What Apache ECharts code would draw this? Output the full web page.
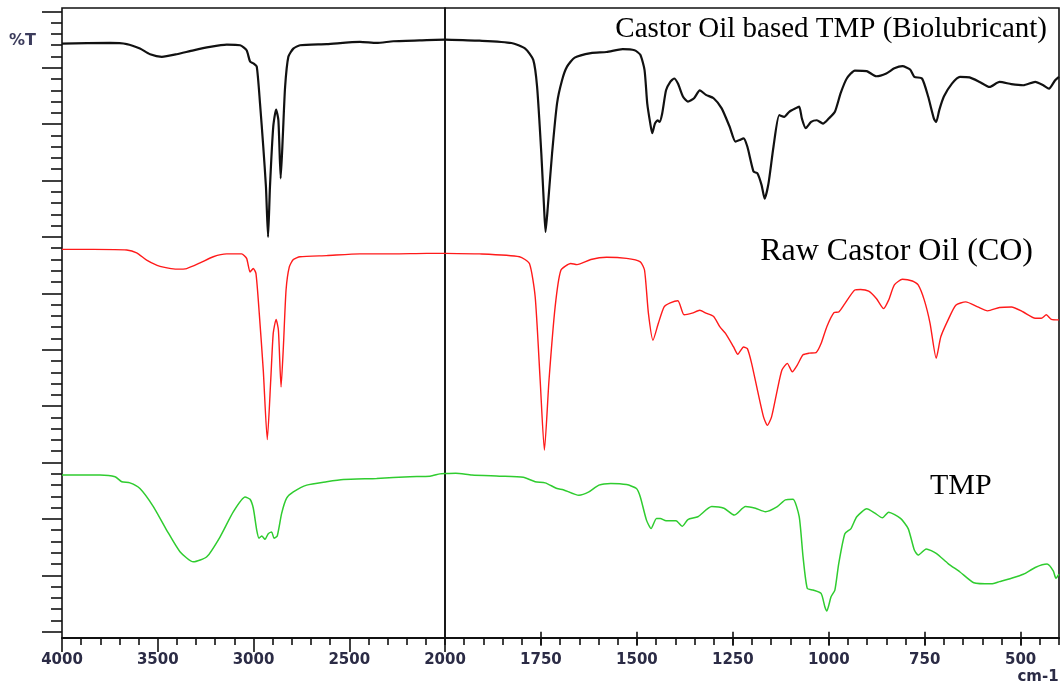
<!DOCTYPE html>
<html>
<head>
<meta charset="utf-8">
<script src="https://cdn.jsdelivr.net/npm/echarts@6/dist/echarts.min.js"></script>
<style>
  html, body { margin: 0; padding: 0; background: #fff; }
  #chart { width: 1062px; height: 682px; }
</style>
</head>
<body>
<div id="chart"></div>
<script>
// FTIR spectra, wavenumber (cm-1) against stacked transmittance (%T).
// Each trace is a list of [wavenumber, %T] pairs, high to low wavenumber.
const esterSpectrum = [
  [4000,104.3],[3749,104.4],[3662,104.2],[3593,103.4],[3540,102.4],[3479,101.95],[3401,102.4],[3314,103.1],
  [3227,103.7],[3140,104.1],[3070,104.0],[3036,103.1],[3018,101.1],[3001,100.8],[2983,100.2],[2966,93.7],
  [2949,86.0],[2935,78.9],[2924,70.0],[2914,78.9],[2897,89.5],[2882,92.6],[2870,90.7],[2858,80.4],
  [2847,87.8],[2835,96.6],[2818,101.95],[2792,103.4],[2757,104.0],[2618,104.2],[2444,104.6],[2357,104.4],
  [2270,104.7],[2095,104.9],[2000,105.0],
  [1910,104.8],[1827,104.4],[1791,103.4],[1770,101.4],[1760,96.6],[1749,84.8],[1742,75.4],[1738,70.9],
  [1732,75.4],[1721,84.8],[1708,93.7],[1695,97.8],[1682,100.2],[1662,101.8],[1620,102.6],[1579,102.8],
  [1537,103.3],[1506,103.1],[1491,102.3],[1480,99.6],[1473,93.7],[1465,90.1],[1460,88.4],[1453,90.1],
  [1446,90.7],[1441,90.4],[1434,91.9],[1424,96.0],[1413,97.5],[1403,98.1],[1393,97.2],[1380,94.9],
  [1367,94.0],[1351,94.6],[1336,96.0],[1320,95.2],[1300,94.6],[1279,92.8],[1258,89.5],[1243,86.9],
  [1232,87.2],[1222,87.5],[1212,86.0],[1196,81.6],[1186,81.3],[1175,79.2],[1167,76.8],[1157,79.5],
  [1144,86.0],[1129,91.6],[1116,91.3],[1103,92.2],[1087,92.8],[1077,93.1],[1070,91.0],[1060,89.3],
  [1046,90.4],[1031,90.7],[1015,90.1],[1000,91.0],[984,92.2],[969,95.5],[953,98.1],[932,99.5],
  [901,99.4],[876,98.5],[850,99.0],[829,99.9],[808,100.3],[788,99.7],[777,98.4],[757,98.1],
  [741,94.9],[726,91.0],[720,90.4],[712,92.5],[700,94.9],[679,97.2],[658,98.4],[633,98.3],
  [607,97.5],[581,96.6],[555,97.5],[524,97.1],[493,96.9],[462,97.5],[441,96.9],[426,96.3],
  [410,97.8],[400,98.4]
];

const castorSpectrum = [
  [4000,67.8],[3837,67.8],[3662,67.7],[3610,67.2],[3558,65.9],[3488,64.8],[3401,64.3],[3349,64.4],
  [3279,65.4],[3210,66.5],[3140,67.0],[3062,67.0],[3036,66.2],[3018,63.8],[3001,64.4],[2987,63.5],
  [2970,56.5],[2949,46.4],[2928,34.1],[2910,44.6],[2897,52.9],[2882,55.4],[2870,53.5],[2856,43.4],
  [2844,50.5],[2830,60.6],[2813,64.7],[2792,66.0],[2757,66.5],[2618,66.7],[2444,67.0],[2270,67.0],
  [2095,67.1],[2000,67.1],
  [1910,67.0],[1806,66.5],[1780,65.3],[1765,59.4],[1752,44.6],[1741,32.2],[1729,44.6],[1713,57.6],
  [1698,64.1],[1672,65.3],[1656,65.1],[1620,66.0],[1579,66.4],[1527,66.2],[1491,65.6],[1480,64.1],
  [1470,56.5],[1458,51.7],[1444,54.7],[1429,57.6],[1413,58.3],[1393,58.7],[1377,56.2],[1356,56.5],
  [1336,57.0],[1320,56.5],[1300,55.9],[1284,54.1],[1269,52.9],[1248,50.5],[1237,49.2],[1222,50.5],
  [1212,50.2],[1201,47.6],[1186,42.9],[1170,38.1],[1160,36.6],[1149,38.1],[1134,42.9],[1122,46.4],
  [1108,47.6],[1095,46.1],[1082,47.3],[1067,49.1],[1051,49.4],[1033,49.5],[1020,51.1],[1005,54.1],
  [986,56.6],[974,56.7],[958,58.2],[932,60.6],[917,60.7],[896,60.4],[876,59.1],[857,57.3],
  [844,58.8],[829,61.5],[808,62.5],[782,62.2],[767,61.5],[751,58.8],[736,54.7],[720,48.5],
  [708,52.3],[689,55.3],[669,57.9],[643,58.5],[612,57.6],[586,56.9],[555,57.5],[524,57.6],
  [493,56.7],[462,55.6],[446,55.6],[433,56.2],[420,55.4],[400,55.3]
];

const tmpSpectrum = [
  [4000,27.8],[3802,27.8],[3723,27.5],[3688,26.6],[3645,26.4],[3593,25.4],[3523,22.2],[3453,18.0],
  [3384,14.2],[3314,12.4],[3244,13.3],[3175,16.8],[3105,21.3],[3044,23.9],[3018,23.5],[3001,21.9],
  [2983,18.0],[2971,16.6],[2957,17.0],[2940,16.4],[2923,17.4],[2905,17.7],[2893,16.6],[2876,17.0],
  [2853,21.0],[2827,23.7],[2792,24.8],[2722,26.0],[2618,26.6],[2531,27.0],[2357,27.2],[2183,27.5],
  [2078,27.6],[2026,28.0],[2000,28.05],
  [1972,28.1],[1930,27.8],[1858,27.6],[1796,27.4],[1765,26.6],[1739,26.4],[1708,25.4],[1692,25.2],
  [1651,24.2],[1625,24.8],[1599,26.0],[1568,26.3],[1527,26.1],[1501,25.4],[1491,23.9],[1475,19.8],
  [1463,18.3],[1449,20.1],[1439,20.1],[1424,19.7],[1398,19.7],[1382,18.7],[1367,19.9],[1341,20.4],
  [1305,22.2],[1273,21.9],[1246,20.7],[1217,22.2],[1191,21.9],[1165,21.3],[1134,22.2],[1113,23.4],
  [1093,23.5],[1077,20.4],[1067,13.3],[1056,7.7],[1041,7.4],[1020,6.8],[1010,4.4],[1005,3.7],
  [994,6.2],[984,7.4],[974,12.1],[958,17.4],[942,18.3],[927,20.4],[901,21.8],[881,21.1],
  [860,20.2],[844,21.2],[813,20.1],[793,18.3],[777,14.5],[767,13.6],[746,14.7],[720,13.9],
  [689,12.1],[658,10.6],[622,8.7],[576,8.5],[555,8.9],[524,9.5],[493,10.2],[462,11.4],
  [431,12.0],[415,10.8],[408,9.5],[400,10.2]
];

// Axis tick labels for the two wavenumber ranges
const highRangeTicks = [4000, 3500, 3000, 2500, 2000];
const lowRangeTicks = [1750, 1500, 1250, 1000, 750, 500];

const traceNames = ['Castor Oil based TMP (Biolubricant)', 'Raw Castor Oil (CO)', 'TMP'];
const traceColors = ['#111111', '#ff1a1a', '#2fcc2f'];
const traceWidths = [2.2, 1.4, 1.5];

// The x scale changes at 2000 cm-1: each range gets its own grid.
const SCALE_BREAK = 2000;
const highPart = pts => pts.filter(p => p[0] >= SCALE_BREAK);
const lowPart = pts => pts.filter(p => p[0] <= SCALE_BREAK);

const INK = '#111';
const LABEL_COLOR = '#2b2b45';
const labelFont = {
  fontFamily: 'DejaVu Sans', fontWeight: 'bold', fontSize: 15, color: LABEL_COLOR,
  formatter: v => String(v)
};

const lowMinorTicks = [];
for (let w = 400; w <= 2000; w += 50) lowMinorTicks.push(w);

const spectra = [esterSpectrum, castorSpectrum, tmpSpectrum];
const series = [];
spectra.forEach((pts, i) => {
  const common = {
    type: 'line', name: traceNames[i], showSymbol: false, smooth: 0.2,
    lineStyle: { color: traceColors[i], width: traceWidths[i] },
    itemStyle: { color: traceColors[i] }, clip: true, silent: true
  };
  series.push(Object.assign({}, common, { xAxisIndex: 0, yAxisIndex: 0, data: highPart(pts) }));
  series.push(Object.assign({}, common, { xAxisIndex: 1, yAxisIndex: 1, data: lowPart(pts) }));
});

const chart = echarts.init(document.getElementById('chart'), null, { renderer: 'canvas' });
chart.setOption({
  animation: false,
  backgroundColor: '#fff',
  grid: [
    { left: 62, top: 8, width: 383, height: 630, show: true, borderColor: INK, borderWidth: 1.6,
      backgroundColor: 'transparent', outerBoundsMode: 'none' },
    { left: 445, top: 8, width: 614, height: 630, show: true, borderColor: INK, borderWidth: 1.6,
      backgroundColor: 'transparent', outerBoundsMode: 'none' },
    { left: 62, top: 11.3, width: 10, height: 620.4, outerBoundsMode: 'none' }
  ],
  xAxis: [
    { gridIndex: 0, type: 'value', min: 2000, max: 4000, inverse: true, interval: 500,
      axisLine: { show: true, onZero: false, lineStyle: { color: INK, width: 2 } },
      axisTick: { show: true, length: 14, lineStyle: { color: INK, width: 1.6 } },
      minorTick: { show: true, splitNumber: 5, length: 7, lineStyle: { color: INK, width: 1.6 } },
      splitLine: { show: false }, minorSplitLine: { show: false },
      axisLabel: Object.assign({ margin: 15, showMinLabel: true, showMaxLabel: true,
                                 customValues: highRangeTicks }, labelFont) },
    { gridIndex: 1, type: 'value', min: 400, max: 2000, inverse: true, position: 'bottom',
      axisLine: { show: true, onZero: false, lineStyle: { color: INK, width: 2 } },
      axisTick: { show: true, length: 7, customValues: lowMinorTicks, lineStyle: { color: INK, width: 1.6 } },
      splitLine: { show: false },
      axisLabel: { show: false } },
    { gridIndex: 1, type: 'value', min: 400, max: 2000, inverse: true, position: 'bottom',
      axisLine: { show: false },
      axisTick: { show: true, length: 14, customValues: lowRangeTicks, lineStyle: { color: INK, width: 1.6 } },
      splitLine: { show: false },
      axisLabel: Object.assign({ margin: 15, customValues: lowRangeTicks }, labelFont) },
    { gridIndex: 2, type: 'value', show: false, min: 0, max: 1 }
  ],
  yAxis: [
    { gridIndex: 0, type: 'value', min: -1.1, max: 110.6, show: false },
    { gridIndex: 1, type: 'value', min: -1.1, max: 110.6, show: false },
    { gridIndex: 2, type: 'value', min: 0, max: 110, interval: 10, position: 'left',
      axisLine: { show: false },
      axisTick: { show: true, length: 20, lineStyle: { color: INK, width: 1.6 } },
      minorTick: { show: true, splitNumber: 5, length: 11, lineStyle: { color: INK, width: 1.6 } },
      splitLine: { show: false }, minorSplitLine: { show: false },
      axisLabel: { show: false } }
  ],
  series: series,
  graphic: [
    { type: 'text', x: 1047, y: 29, silent: true,
      style: { text: traceNames[0], fontFamily: 'Liberation Serif', fontSize: 29, fill: '#000',
               textAlign: 'right', textVerticalAlign: 'middle' } },
    { type: 'text', x: 1033, y: 251.5, silent: true,
      style: { text: traceNames[1], fontFamily: 'Liberation Serif', fontSize: 32, fill: '#000',
               textAlign: 'right', textVerticalAlign: 'middle' } },
    { type: 'text', x: 930, y: 486, silent: true,
      style: { text: traceNames[2], fontFamily: 'Liberation Serif', fontSize: 30, fill: '#000',
               textAlign: 'left', textVerticalAlign: 'middle' } },
    { type: 'text', x: 9, y: 40.5, silent: true,
      style: { text: '%T', fontFamily: 'DejaVu Sans', fontWeight: 'bold', fontSize: 16, fill: '#3c3c5c',
               textAlign: 'left', textVerticalAlign: 'middle' } },
    { type: 'text', x: 1038, y: 677.5, silent: true,
      style: { text: 'cm-1', fontFamily: 'DejaVu Sans', fontWeight: 'bold', fontSize: 15, fill: LABEL_COLOR,
               textAlign: 'center', textVerticalAlign: 'middle' } }
  ]
});
</script>
</body>
</html>
